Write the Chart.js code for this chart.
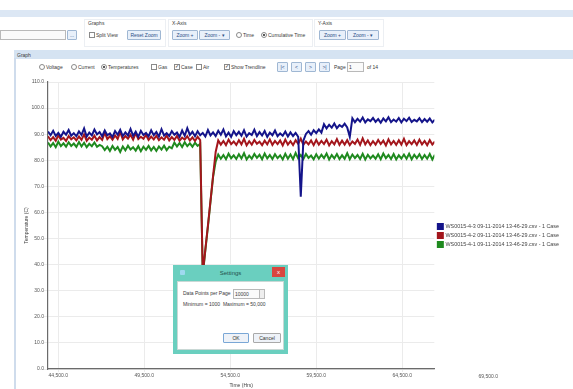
<!DOCTYPE html>
<html>
<head>
<meta charset="utf-8">
<title>Temperatures</title>
<script src="https://cdn.jsdelivr.net/npm/chart.js@4.4.1/dist/chart.umd.min.js"></script>
<style>
  body { margin:0; width:573px; height:389px; overflow:hidden; background:#fff; position:relative;
         font-family:"Liberation Sans", Arial, sans-serif; font-size:5px; color:#3a3a3a; }
  .a { position:absolute; white-space:nowrap; }
  .grp { position:absolute; border:1px solid #eceff3; }
  .btn { position:absolute; height:8px; line-height:8px; text-align:center; background:#e8f0fa;
         border:1px solid #9fb7d3; color:#2c4f86; border-radius:1px; }
  .box { position:absolute; width:4px; height:4px; border:1px solid #8a8a8a; background:#fff; }
  .rad { border-radius:50%; }
  .on::after { content:''; position:absolute; left:1px; top:1px; width:2px; height:2px; background:#222; border-radius:50%; }
  .chk::after { content:'\2713'; position:absolute; left:0; top:-2px; font-size:5px; color:#222; }
  .inp { position:absolute; height:8px; border:1px solid #b9b9b9; background:#fafafa; }
  #panel { position:absolute; left:14px; top:58px; width:559px; height:331px; border-left:2px solid #cfdcec; }
  #wrap { position:absolute; left:16px; top:70px; width:557px; height:319px; }
  #dlg { position:absolute; left:173px; top:265px; width:115px; height:89px; background:#6acfbf; }
</style>
</head>
<body>
<!-- window chrome -->
<div class="a" style="left:0;top:10px;width:573px;height:7px;background:#dce7f4"></div>
<div class="inp" style="left:0;top:30px;width:64px;"></div>
<div class="btn" style="left:67px;top:30px;width:8px;">...</div>

<div class="grp" style="left:84px;top:19px;width:80px;height:26px"></div>
<div class="a" style="left:88px;top:20px">Graphs</div>
<div class="box" style="left:89px;top:32px"></div>
<div class="a" style="left:96px;top:32px">Split View</div>
<div class="btn" style="left:127px;top:30px;width:32px;">Reset Zoom</div>

<div class="grp" style="left:168px;top:19px;width:143px;height:26px"></div>
<div class="a" style="left:172px;top:20px">X-Axis</div>
<div class="btn" style="left:172px;top:30px;width:24px;">Zoom +</div>
<div class="btn" style="left:199px;top:30px;width:29px;">Zoom - &#9662;</div>
<div class="box rad" style="left:236px;top:32px"></div>
<div class="a" style="left:243px;top:32px">Time</div>
<div class="box rad on" style="left:261px;top:32px"></div>
<div class="a" style="left:268px;top:32px">Cumulative Time</div>

<div class="grp" style="left:314px;top:19px;width:68px;height:26px"></div>
<div class="a" style="left:318px;top:20px">Y-Axis</div>
<div class="btn" style="left:319px;top:30px;width:25px;">Zoom +</div>
<div class="btn" style="left:347px;top:30px;width:30px;">Zoom - &#9662;</div>

<div class="a" style="left:14px;top:50px;width:559px;height:9px;background:#d5e3f2"></div>
<div class="a" style="left:17px;top:52px">Graph</div>
<div id="panel"></div>

<div class="box rad" style="left:39px;top:64px"></div>
<div class="a" style="left:46px;top:64px">Voltage</div>
<div class="box rad" style="left:71px;top:64px"></div>
<div class="a" style="left:78px;top:64px">Current</div>
<div class="box rad on" style="left:101px;top:64px"></div>
<div class="a" style="left:108px;top:64px">Temperatures</div>
<div class="box" style="left:151px;top:64px"></div>
<div class="a" style="left:158px;top:64px">Gas</div>
<div class="box chk" style="left:174px;top:64px"></div>
<div class="a" style="left:181px;top:64px">Case</div>
<div class="box" style="left:196px;top:64px"></div>
<div class="a" style="left:203px;top:64px">Air</div>
<div class="box chk" style="left:224px;top:64px"></div>
<div class="a" style="left:231px;top:64px">Show Trendline</div>
<div class="btn" style="left:277px;top:62px;width:9px;">|&lt;</div>
<div class="btn" style="left:291px;top:62px;width:9px;">&lt;</div>
<div class="btn" style="left:305px;top:62px;width:9px;">&gt;</div>
<div class="btn" style="left:319px;top:62px;width:9px;">&gt;|</div>
<div class="a" style="left:334px;top:64px">Page</div>
<div class="inp" style="left:347px;top:62px;width:14px;line-height:8px;padding-left:1px">1</div>
<div class="a" style="left:367px;top:64px">of 14</div>

<div id="wrap"><canvas id="tempChart"></canvas></div>

<!-- settings dialog -->
<div id="dlg">
  <div class="a" style="left:7px;top:5px;width:5px;height:5px;background:#9fd9ef;border-radius:1px"></div>
  <div class="a" style="left:0;top:5px;width:115px;text-align:center;font-size:6px;color:#24524c">Settings</div>
  <div class="a" style="left:99px;top:2px;width:13px;height:10px;background:#d9463f;color:#fff;text-align:center;line-height:10px;font-size:6px">x</div>
  <div class="a" style="left:4px;top:16px;width:105px;height:67px;background:#fff;border:1px solid #c9d8d5"></div>
  <div class="a" style="left:10px;top:25px">Data Points per Page</div>
  <div class="inp" style="left:60px;top:24px;width:24px;line-height:8px;padding-left:1px">10000</div>
  <div class="a" style="left:86px;top:24px;width:4px;height:8px;border:1px solid #b9b9b9;background:#eee"></div>
  <div class="a" style="left:10px;top:36px">Minimum = 1000 &nbsp;Maximum = 50,000</div>
  <div class="btn" style="left:50px;top:68px;width:24px;background:#eef2f8;border-color:#7aa7d6;color:#333">OK</div>
  <div class="btn" style="left:80px;top:68px;width:26px;background:#eef2f8;border-color:#a9a9a9;color:#333">Cancel</div>
</div>

<script>
// temperatures page, case sensors

const TIME = [
  43900, 44050, 44200, 44350, 44500, 44650, 44800, 44950, 45100, 45250, 45400, 45550, 45700, 45850, 46000, 46150, 46300, 46450, 46600, 46750,
  46900, 47050, 47200, 47350, 47500, 47650, 47800, 47950, 48100, 48250, 48400, 48550, 48700, 48850, 49000, 49150, 49300, 49450, 49600, 49750,
  49900, 50050, 50200, 50350, 50500, 50650, 50800, 50950, 51100, 51250, 51400, 51550, 51700, 51850, 52000, 52150, 52300, 52450, 52600, 52750,
  52900, 53050, 53200, 53350, 53500, 53650, 53800, 53950, 54100, 54250, 54400, 54550, 54700, 54850, 55000, 55150, 55300, 55450, 55600, 55750,
  55900, 56050, 56200, 56350, 56500, 56650, 56800, 56950, 57100, 57250, 57400, 57550, 57700, 57850, 58000, 58150, 58300, 58450, 58600, 58750,
  58900, 59050, 59200, 59350, 59500, 59650, 59800, 59950, 60100, 60250, 60400, 60550, 60700, 60850, 61000, 61150, 61300, 61450, 61600, 61750,
  61900, 62050, 62200, 62350, 62500, 62650, 62800, 62950, 63100, 63250, 63400, 63550, 63700, 63850, 64000, 64150, 64300, 64450, 64600, 64750,
  64900, 65050, 65200, 65350, 65500, 65650, 65800, 65950, 66100, 66250, 66400
];

// WS0015-4-3 (blue)
const WS43 = [
  91.0, 89.6, 91.3, 89.3, 90.5, 89.0, 90.9, 89.8, 91.6, 89.4, 90.4, 89.2, 91.1, 89.7, 92.2, 89.1, 90.6, 89.5, 91.8, 89.9,
  90.8, 89.2, 91.4, 89.6, 90.3, 88.9, 91.2, 89.8, 91.7, 89.3, 90.7, 89.5, 92.0, 89.4, 90.9, 89.0, 91.3, 89.7, 90.5, 89.2,
  91.5, 89.6, 90.8, 89.1, 91.9, 89.5, 90.4, 89.3, 91.2, 89.8, 90.6, 89.0, 91.4, 89.4, 92.3, 89.7, 90.9, 89.2, 91.1, 89.6,
  90.5, 89.1, 91.6, 89.5, 90.7, 89.3, 91.3, 89.8, 91.8, 89.2, 90.6, 89.0, 91.2, 89.6, 90.9, 89.4, 91.5, 89.1, 90.4, 89.7,
  91.7, 89.3, 90.8, 89.5, 91.2, 89.0, 90.6, 89.6, 91.4, 89.2, 90.3, 89.4, 91.0, 89.1, 90.7, 89.3, 90.5, 89.0,
  66.0, 87.5,
  90.1, 91.2, 89.8, 91.5, 90.4, 91.8, 90.6,
  93.8, 92.2, 93.6, 92.5, 94.1, 92.3, 93.5, 92.8, 94.0, 92.6, 89.0,
  96.1, 94.6, 95.9, 94.8, 96.4, 94.5, 95.7, 95.0, 96.2, 94.7, 95.8, 94.4, 96.0, 94.9, 96.5, 94.6, 95.6, 94.8, 96.2, 94.5,
  95.9, 95.0, 96.3, 94.7, 95.5, 94.9, 96.1, 94.6, 95.8, 94.8, 96.0, 94.5, 95.6
];

// WS0015-4-2 (red)
const WS42 = [
  89.2, 87.7, 88.9, 87.5, 89.6, 87.9, 88.6, 87.4, 89.3, 88.0, 88.8, 87.6, 89.1, 87.8, 89.9, 87.5, 88.7, 87.9, 89.4, 87.6,
  88.9, 87.8, 90.6, 88.1, 89.2, 87.9, 89.5, 88.2, 90.9, 88.0, 89.3, 88.3, 89.8, 87.9, 90.4, 88.1, 89.0, 88.2, 89.7, 87.8,
  89.1, 88.0, 89.4, 87.7, 88.8, 87.9, 89.5, 87.6, 88.9, 87.8, 89.3, 87.5, 88.7, 87.9, 89.2, 87.6, 88.8, 87.4, 89.0, 87.7,
  36.5, 45.8, 55.0, 64.5, 74.0, 83.2,
  87.6, 86.0, 87.4, 85.8, 87.9, 86.2, 87.2, 85.9, 87.7, 86.1, 88.2, 85.7, 87.3, 86.0, 87.8, 86.3, 87.1, 85.8, 87.5, 86.1,
  88.0, 85.9, 87.4, 86.2, 87.6, 85.7, 87.9, 86.0, 87.3, 85.8, 87.7, 86.3, 88.3, 85.9, 87.2, 86.1, 87.6, 85.8, 87.8, 86.0,
  87.4, 86.2, 87.9, 85.7, 87.3, 86.1, 88.1, 85.9, 87.5, 86.0, 87.7, 85.8, 87.2, 86.3, 87.9, 85.9, 88.4, 86.1, 87.6, 85.8,
  87.3, 86.0, 87.8, 86.2, 87.5, 85.7, 88.0, 86.1, 87.4, 85.9, 87.7, 86.0, 88.2, 85.8, 87.3, 86.2, 87.6, 85.9, 87.9, 86.1,
  87.4, 85.8, 87.7, 86.0, 87.2
];

// WS0015-4-1 (green)
const WS41 = [
  86.8, 85.3, 86.6, 85.0, 87.1, 85.4, 86.5, 85.2, 86.9, 85.5, 86.4, 85.1, 87.0, 85.3, 86.7, 85.0, 86.3, 85.4, 86.8, 85.2, 85.9,
  85.4, 83.9, 85.2, 83.6, 85.5, 84.0, 85.1, 83.2, 85.3, 83.8, 85.6, 84.1, 85.0, 83.7, 85.4, 83.5, 85.2, 84.0, 85.5, 83.8,
  85.1, 83.6, 85.3, 84.1, 85.6, 83.9, 85.2, 84.6,
  86.8, 85.3, 86.6, 85.1, 86.9, 85.4, 86.5, 85.2, 86.7, 85.5, 86.3,
  36.0, 45.5, 54.6, 64.1, 73.6, 79.5,
  82.2, 80.6, 82.0, 80.4, 82.5, 80.8, 81.9, 80.5, 82.3, 80.7, 82.7, 80.3, 81.8, 80.6, 82.4, 80.9, 82.1, 80.4, 82.6, 80.7,
  82.0, 80.5, 82.3, 80.8, 81.9, 80.3, 82.5, 80.6, 82.2, 80.4, 82.8, 80.7, 82.0, 80.5, 82.4, 80.9, 81.8, 80.4, 82.3, 80.6,
  82.1, 80.8, 82.6, 80.3, 82.0, 80.7, 82.4, 80.5, 81.9, 80.6, 82.7, 80.4, 82.2, 80.8, 82.0, 80.5, 82.5, 80.3, 82.1, 80.7,
  81.8, 80.6, 82.3, 80.4, 82.6, 80.8, 82.0, 80.5, 82.4, 80.3, 81.9, 80.7, 82.2, 80.6, 82.5, 80.4, 82.1, 80.8, 82.3, 80.5,
  82.0, 80.6, 82.4, 80.3, 82.1
];

const SERIES_LABELS = [
  'WS0015-4-3 09-11-2014 13-46-29.csv - 1 Case',
  'WS0015-4-2 09-11-2014 13-46-29.csv - 1 Case',
  'WS0015-4-1 09-11-2014 13-46-29.csv - 1 Case'
];
const SERIES_COLORS = ['#14148a', '#a3161c', '#1f8a1f'];

const X_TICKS = [44500, 49500, 54500, 59500, 64500];
const X_EXTRA_TICK = 69500;   // label the app prints past the plot edge
const X_MIN = 43900, X_MAX = 66367;
const Y_MIN = 0, Y_MAX = 110, Y_STEP = 10;

const FONT = '"Liberation Sans", Arial, sans-serif';
const fmtTime = v => v.toLocaleString('en-US') + '.0';
const points = vals => TIME.map((t, i) => ({ x: t, y: vals[i] }));

const extraTick = {
  id: 'extraTick',
  afterDraw(chart) {
    const xs = chart.scales.x;
    const c = chart.ctx;
    c.save();
    c.font = '5px ' + FONT;
    c.fillStyle = '#555';
    c.textAlign = 'center';
    c.textBaseline = 'top';
    c.fillText(fmtTime(X_EXTRA_TICK), xs.getPixelForValue(X_EXTRA_TICK), xs.top + 5);
    c.restore();
  }
};

const ctx = document.getElementById('tempChart').getContext('2d');
new Chart(ctx, {
  type: 'line',
  data: {
    datasets: [WS43, WS42, WS41].map((vals, i) => ({
      label: SERIES_LABELS[i],
      data: points(vals),
      borderColor: SERIES_COLORS[i],
      backgroundColor: SERIES_COLORS[i],
      borderWidth: 2,
      pointRadius: 0,
      tension: 0,
    }))
  },
  options: {
    responsive: true,
    maintainAspectRatio: false,
    animation: false,
    layout: { padding: { top: 12, right: 4 } },
    plugins: {
      legend: {
        position: 'right',
        labels: { color: '#444', boxWidth: 5, boxHeight: 5, padding: 3.5, font: { size: 5.4, family: FONT } }
      },
      tooltip: { enabled: false }
    },
    scales: {
      x: {
        type: 'linear',
        min: X_MIN,
        max: X_MAX,
        afterBuildTicks: s => { s.ticks = X_TICKS.map(v => ({ value: v })); },
        afterFit: s => { s.height = 20; },
        ticks: { color: '#555', padding: 1, maxRotation: 0, font: { size: 5, family: FONT }, callback: fmtTime },
        grid: { color: '#ebebeb', tickLength: 3 },
        border: { color: '#6b6b6b', width: 1.2 },
        title: { display: true, text: 'Time (Hrs)', color: '#444', padding: 0, font: { size: 5, family: FONT } }
      },
      y: {
        min: Y_MIN,
        max: Y_MAX,
        afterFit: s => { s.width = 32; },
        ticks: { stepSize: Y_STEP, color: '#555', padding: 0, font: { size: 5, family: FONT }, callback: v => v.toFixed(1) },
        grid: { color: '#ebebeb', tickLength: 4 },
        border: { color: '#6b6b6b', width: 1.2 },
        title: { display: true, text: 'Temperature (C)', color: '#444', padding: { top: 8, bottom: 0 }, font: { size: 5, family: FONT } }
      }
    }
  },
  plugins: [extraTick]
});
</script>
</body>
</html>
